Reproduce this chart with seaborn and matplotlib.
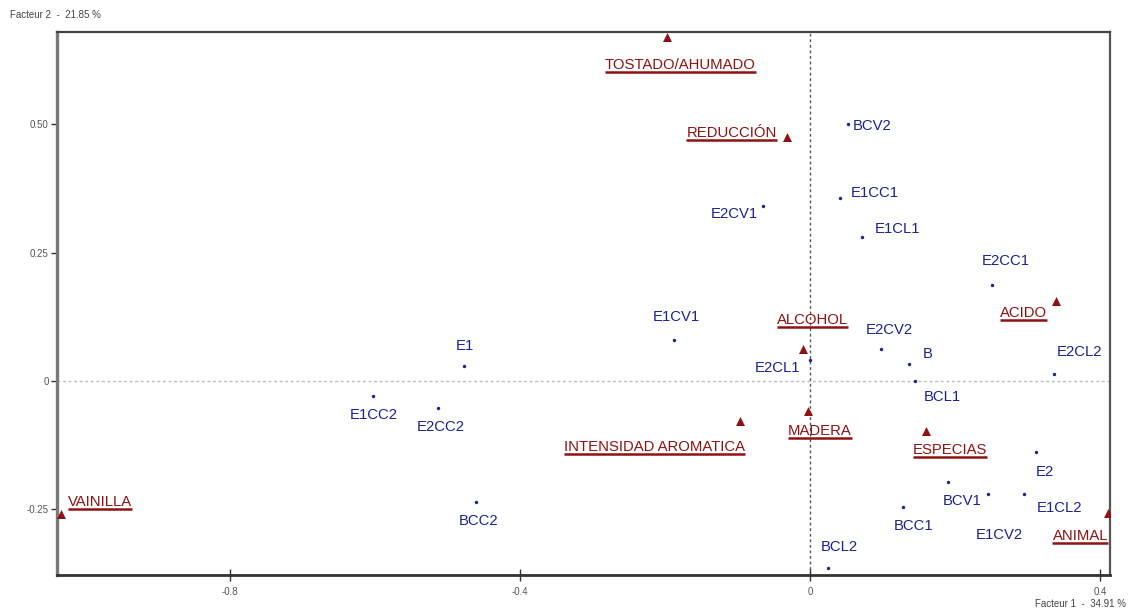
import matplotlib
matplotlib.use("Agg")
import matplotlib.pyplot as plt
from matplotlib import font_manager
from matplotlib.lines import Line2D
import pandas as pd
import seaborn as sns

# Individuals (products) on the first factorial plane
samples = ["BCV2", "E1CC1", "E1CL1", "E2CV1", "E2CC1", "E2CL2", "E2CV2", "B",
           "BCL1", "E2CL1", "E1CV1", "E1", "E1CC2", "E2CC2", "BCC2", "BCL2",
           "BCC1", "BCV1", "E1CV2", "E1CL2", "E2"]
sample_f1 = [0.052, 0.041, 0.072, -0.065, 0.251, 0.337, 0.098, 0.137,
             0.145, 0.000, -0.188, -0.477, -0.603, -0.513, -0.461, 0.025,
             0.128, 0.190, 0.246, 0.295, 0.312]
sample_f2 = [0.501, 0.357, 0.281, 0.341, 0.187, 0.013, 0.062, 0.032,
             -0.001, 0.040, 0.079, 0.028, -0.030, -0.053, -0.237, -0.365,
             -0.246, -0.198, -0.221, -0.221, -0.138]

# Sensory descriptors (supplementary variables)
attributes = ["TOSTADO/AHUMADO", "REDUCCIÓN", "ALCOHOL", "ACIDO", "MADERA",
              "INTENSIDAD AROMATICA", "ESPECIAS", "VAINILLA", "ANIMAL"]
attr_f1 = [-0.197, -0.032, -0.010, 0.339, -0.003, -0.097, 0.160, -1.033, 0.411]
attr_f2 = [0.670, 0.476, 0.063, 0.156, -0.059, -0.078, -0.097, -0.260, -0.258]

x_ticks = [-0.8, -0.4, 0.0, 0.4]
x_tick_labels = ["-0.8", "-0.4", "0", "0.4"]
y_ticks = [-0.25, 0.0, 0.25, 0.50]
y_tick_labels = ["-0.25", "0", "0.25", "0.50"]
axis1_title = "Facteur 1  -  34.91 %"
axis2_title = "Facteur 2  -  21.85 %"

# label placement: (dx px, dy px to the cap centre, horizontal alignment)
label_pos = {
    "BCV2": (5, 0, "left"), "E1CC1": (11, 7, "left"), "E1CL1": (13, 10, "left"),
    "E2CV1": (-5, -6, "right"), "E2CC1": (14, 26, "center"),
    "E2CL2": (25, 24, "center"), "E2CV2": (8, 21, "center"),
    "B": (13, 12, "left"), "BCL1": (9, -14, "left"), "E2CL1": (-10, -6, "right"),
    "E1CV1": (3, 25, "center"), "E1": (1, 22, "center"),
    "E1CC2": (1, -17, "center"), "E2CC2": (3, -17, "center"),
    "BCC2": (3, -17, "center"), "BCL2": (11, 23, "center"),
    "BCC1": (11, -17, "center"), "BCV1": (14, -17, "center"),
    "E1CV2": (11, -39, "center"), "E1CL2": (13, -12, "left"),
    "E2": (9, -18, "center"),
    "TOSTADO/AHUMADO": (13, -26, "center"), "REDUCCIÓN": (-10, 6, "right"),
    "ALCOHOL": (10, 31, "center"), "ACIDO": (-9, -10, "right"),
    "MADERA": (12, -18, "center"), "INTENSIDAD AROMATICA": (5, -24, "right"),
    "ESPECIAS": (24, -17, "center"), "VAINILLA": (7, 14, "left"),
    "ANIMAL": (0, -21, "right"),
}

BLUE = "#1c2390"
RED = "#8e1212"

sns.set_theme(style="white")
available = {f.name for f in font_manager.fontManager.ttflist}
if "Liberation Sans Narrow" in available:
    family, label_size = ["Liberation Sans Narrow", "DejaVu Sans"], 12.5
else:
    family, label_size = ["Liberation Sans", "DejaVu Sans"], 10.7
plt.rcParams["font.family"] = family

fig = plt.figure(figsize=(11.34, 6.10), dpi=100)
ax = fig.add_axes([57 / 1134, 35 / 610, (1110 - 57) / 1134, (578 - 35) / 610])

df_s = pd.DataFrame({"name": samples, "f1": sample_f1, "f2": sample_f2})
df_a = pd.DataFrame({"name": attributes, "f1": attr_f1, "f2": attr_f2})

ax.axvline(0, color="#555555", lw=1.0, ls=(0, (2, 2)), zorder=0)
ax.axhline(0, color="#bbbbbb", lw=1.0, ls=(0, (2, 2)), zorder=0)

sns.scatterplot(data=df_s, x="f1", y="f2", ax=ax, color=BLUE, s=6,
                marker="o", linewidth=0, zorder=3, legend=False)
sns.scatterplot(data=df_a, x="f1", y="f2", ax=ax, color=RED, s=42,
                marker="^", linewidth=0, zorder=3, legend=False)

ax.set_xlim(-1.0386, 0.4138)
ax.set_ylim(-0.3785, 0.680)
ax.set_xlabel("")
ax.set_ylabel("")
ax.set_xticks(x_ticks)
ax.set_xticklabels(x_tick_labels)
ax.set_yticks(y_ticks)
ax.set_yticklabels(y_tick_labels)
ax.tick_params(axis="x", direction="inout", length=9, width=1, colors="#333333",
               labelsize=7, labelcolor="#555555", pad=4, bottom=True)
ax.tick_params(axis="y", direction="out", length=4, width=1, colors="#333333",
               labelsize=7, labelcolor="#555555", pad=2, left=True)
for side, (lw, col) in {"left": (2.4, "#7a7a7a"), "bottom": (2.0, "#333333"),
                        "top": (1.6, "#444444"), "right": (1.6, "#555555")}.items():
    ax.spines[side].set_linewidth(lw)
    ax.spines[side].set_color(col)
    ax.spines[side].set_visible(True)

CAP_HALF = 6
attr_texts = []
for df, col in ((df_s, BLUE), (df_a, RED)):
    for _, row in df.iterrows():
        dx, dy, ha = label_pos[row["name"]]
        t = ax.annotate(row["name"], (row["f1"], row["f2"]),
                        xytext=(dx, dy - CAP_HALF), textcoords="offset pixels",
                        ha=ha, va="baseline", color=col, fontsize=label_size,
                        zorder=4)
        if col == RED:
            attr_texts.append(t)

fig.text(10 / 1134, 1 - 15 / 610, axis2_title, fontsize=7, color="#444444",
         ha="left", va="center")
fig.text(1126 / 1134, 1 - 604 / 610, axis1_title, fontsize=7, color="#444444",
         ha="right", va="center")

# underline the descriptor names
fig.canvas.draw()
renderer = fig.canvas.get_renderer()
inv = fig.transFigure.inverted()
for t in attr_texts:
    bb = t.get_window_extent(renderer)
    (x0, y0), (x1, _) = inv.transform([(bb.x0, bb.y0), (bb.x1, bb.y0)])
    fig.add_artist(Line2D([x0, x1], [y0, y0], transform=fig.transFigure,
                          color=RED, lw=1.8, solid_capstyle="butt"))

fig.savefig("out.png", dpi=100)
